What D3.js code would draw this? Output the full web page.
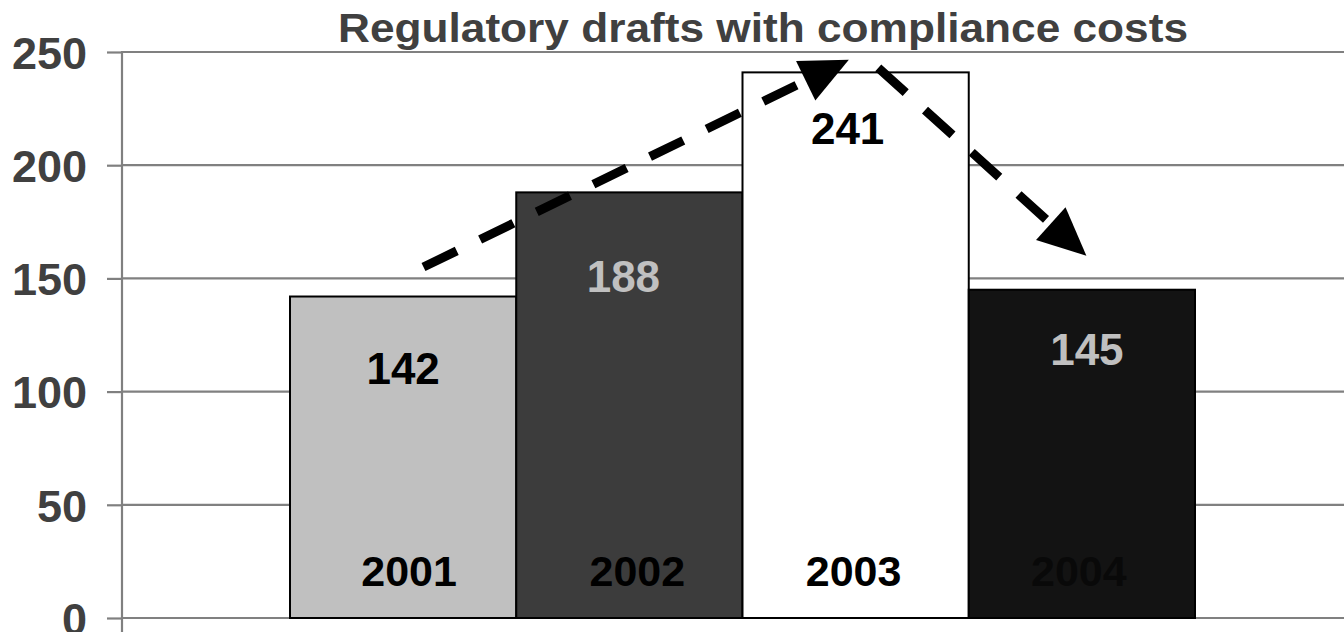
<!DOCTYPE html>
<html><head><meta charset="utf-8">
<script src="https://cdn.jsdelivr.net/npm/d3@7"></script>
<style>html,body{margin:0;padding:0;background:#fff;} svg{display:block;}</style>
</head><body>
<svg id="chart" width="1344" height="632"></svg>
<script>
// ---- data ----
const chartTitle = "Regulatory drafts with compliance costs";
const years = ["2001", "2002", "2003", "2004"];
const drafts = [142, 188, 241, 145];
const yTicks = [0, 50, 100, 150, 200, 250];
// trend arrows: [category, position within band (0..1), value]
const arrowUp = { from: ["2001", 0.59, 155], to: ["2003", 0.47, 246.6] };
const arrowDown = { from: ["2003", 0.60, 243], to: ["2004", 0.52, 160] };

// ---- styles / layout ----
const W = 1344, H = 632;
const barFill = ["#c0c0c0", "#3c3c3c", "#ffffff", "#131313"];
const valueColor = ["#000000", "#c0c0c0", "#000000", "#c0c0c0"];
const valueOffset = [[0, 72], [-6, 84], [-8, 56], [5, 59]]; // px from bar top centre
const yearOffset = [6, 8, -2, -3];
const font = "'Liberation Sans', Arial, Helvetica, sans-serif";

const svg = d3.select("#chart");
const y = d3.scaleLinear().domain([0, 250]).range([618, 52]);
const x = d3.scaleBand().domain(years).range([290, 1195]).padding(0);
const axisX = 122;

// gridlines
svg.append("g").selectAll("line").data(yTicks).join("line")
  .attr("x1", axisX).attr("x2", W)
  .attr("y1", d => y(d)).attr("y2", d => y(d))
  .attr("stroke", "#808080").attr("stroke-width", 2.2);

// y axis
const gAxis = svg.append("g").attr("transform", `translate(${axisX},0)`)
  .call(d3.axisLeft(y).tickValues(yTicks).tickSize(15).tickSizeOuter(0).tickPadding(20));
gAxis.select(".domain").remove();
gAxis.selectAll(".tick line").attr("stroke", "#808080").attr("stroke-width", 2.2);
gAxis.selectAll(".tick text")
  .attr("font-family", font).attr("font-weight", "bold").attr("font-size", 45)
  .attr("fill", "#404040").attr("dy", "0.36em");
svg.append("line").attr("x1", axisX).attr("x2", axisX).attr("y1", y(250) - 1).attr("y2", H)
  .attr("stroke", "#808080").attr("stroke-width", 2.2);

// bars
svg.append("g").selectAll("rect").data(drafts).join("rect")
  .attr("x", (d, i) => x(years[i]))
  .attr("y", d => y(d))
  .attr("width", x.bandwidth())
  .attr("height", d => y(0) - y(d))
  .attr("fill", (d, i) => barFill[i])
  .attr("stroke", "#000").attr("stroke-width", 2);

// value labels
svg.append("g").selectAll("text").data(drafts).join("text")
  .attr("x", (d, i) => x(years[i]) + x.bandwidth() / 2 + valueOffset[i][0])
  .attr("y", (d, i) => y(d) + valueOffset[i][1])
  .attr("dy", "0.36em")
  .attr("text-anchor", "middle")
  .attr("font-family", font).attr("font-weight", "bold").attr("font-size", 44)
  .attr("fill", (d, i) => valueColor[i])
  .text(d => d);

// category labels inside bars
svg.append("g").selectAll("text").data(years).join("text")
  .attr("x", (d, i) => x(d) + x.bandwidth() / 2 + yearOffset[i])
  .attr("y", 571)
  .attr("dy", "0.36em")
  .attr("text-anchor", "middle")
  .attr("font-family", font).attr("font-weight", "bold").attr("font-size", 43)
  .attr("fill", (d, i) => i === 3 ? "#090909" : "#000")
  .text(d => d);

// title
svg.append("text")
  .attr("x", 338).attr("y", 42)
  .attr("textLength", 850).attr("lengthAdjust", "spacingAndGlyphs")
  .attr("font-family", font).attr("font-weight", "bold").attr("font-size", 40)
  .attr("fill", "#404040")
  .text(chartTitle);

// arrows
function pt(p) { return [x(p[0]) + p[1] * x.bandwidth(), y(p[2])]; }
function drawArrow(a) {
  const p0 = pt(a.from), p1 = pt(a.to);
  const dx = p1[0] - p0[0], dy = p1[1] - p0[1], len = Math.hypot(dx, dy);
  const ux = dx / len, uy = dy / len;
  const L = 48, w = 22;
  const bx = p1[0] - ux * L, by = p1[1] - uy * L;
  svg.append("line")
    .attr("x1", p0[0]).attr("y1", p0[1])
    .attr("x2", bx + ux * 2).attr("y2", by + uy * 2)
    .attr("stroke", "#000").attr("stroke-width", 9)
    .attr("stroke-dasharray", "37,26");
  svg.append("polygon")
    .attr("points", [[p1[0], p1[1]], [bx - uy * w, by + ux * w], [bx + uy * w, by - ux * w]].map(p => p.join(",")).join(" "))
    .attr("fill", "#000");
}
drawArrow(arrowUp);
drawArrow(arrowDown);
</script>
</body></html>
